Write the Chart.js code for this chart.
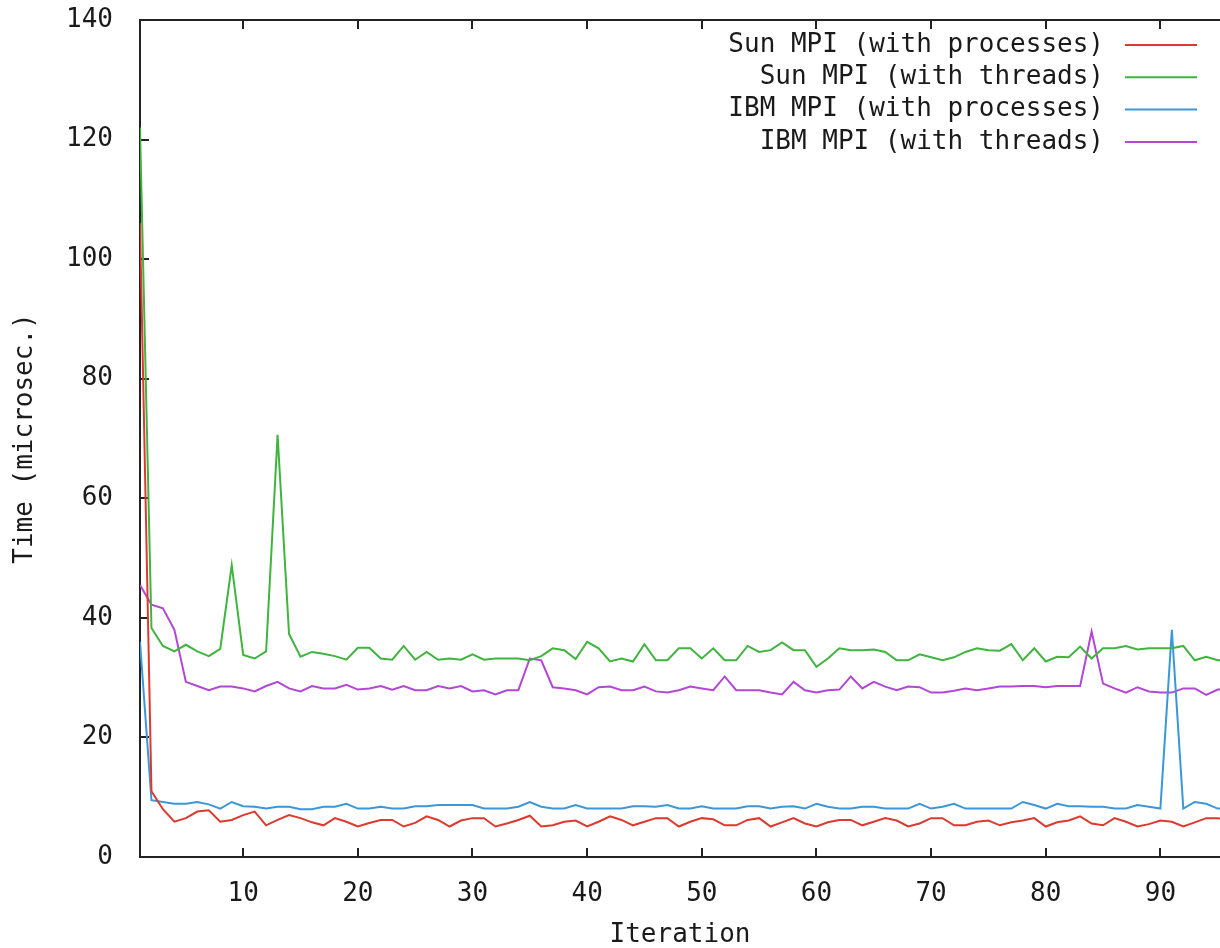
<!DOCTYPE html>
<html>
<head>
<meta charset="utf-8">
<title>MPI timing</title>
<script src="https://cdn.jsdelivr.net/npm/chart.js@4.4.0/dist/chart.umd.min.js"></script>
<style>
  html, body { margin: 0; padding: 0; background: #fff; }
  canvas { display: block; }
</style>
</head>
<body>
<canvas id="timingChart" width="1220" height="948"></canvas>
<script>
// Iteration numbers (x) and the measured times (microseconds) for each run
const iterations = [
   1,  2,  3,  4,  5,  6,  7,  8,  9, 10, 11, 12, 13, 14, 15, 16, 17, 18, 19, 20,
  21, 22, 23, 24, 25, 26, 27, 28, 29, 30, 31, 32, 33, 34, 35, 36, 37, 38, 39, 40,
  41, 42, 43, 44, 45, 46, 47, 48, 49, 50, 51, 52, 53, 54, 55, 56, 57, 58, 59, 60,
  61, 62, 63, 64, 65, 66, 67, 68, 69, 70, 71, 72, 73, 74, 75, 76, 77, 78, 79, 80,
  81, 82, 83, 84, 85, 86, 87, 88, 89, 90, 91, 92, 93, 94, 95, 96
];

const sunProcesses = [
  106, 11, 8, 5.9, 6.5, 7.6, 7.8, 5.9, 6.2, 7.0, 7.6, 5.3, 6.2, 7.0, 6.5, 5.8, 5.3, 6.5, 5.9, 5.1,
  5.7, 6.2, 6.2, 5.1, 5.7, 6.8, 6.2, 5.1, 6.1, 6.5, 6.5, 5.1, 5.6, 6.2, 6.9, 5.1, 5.3, 5.9, 6.1, 5.1,
  5.9, 6.8, 6.2, 5.3, 5.9, 6.5, 6.5, 5.1, 5.9, 6.5, 6.3, 5.3, 5.3, 6.2, 6.5, 5.1, 5.8, 6.5, 5.6, 5.1,
  5.8, 6.2, 6.2, 5.3, 5.9, 6.5, 6.1, 5.1, 5.6, 6.5, 6.5, 5.3, 5.3, 5.9, 6.1, 5.3, 5.8, 6.1, 6.5, 5.1,
  5.8, 6.1, 6.8, 5.6, 5.3, 6.5, 5.9, 5.1, 5.5, 6.1, 5.9, 5.1, 5.8, 6.5, 6.5, 6.2
];

const sunThreads = [
  122, 38.3, 35.3, 34.4, 35.5, 34.4, 33.6, 34.8, 48.8, 33.8, 33.2, 34.4, 70.6, 37.3, 33.5, 34.3, 34.0, 33.6, 33.0, 35.0,
  35.0, 33.2, 33.0, 35.3, 33.0, 34.3, 33.0, 33.2, 33.0, 33.9, 33.0, 33.2, 33.2, 33.2, 32.9, 33.6, 34.9, 34.6, 33.1, 36.0,
  34.9, 32.7, 33.2, 32.7, 35.6, 32.9, 32.9, 34.9, 34.9, 33.2, 34.9, 32.9, 32.9, 35.3, 34.3, 34.6, 35.9, 34.6, 34.6, 31.8,
  33.2, 34.9, 34.6, 34.6, 34.7, 34.3, 32.9, 32.9, 33.9, 33.4, 32.9, 33.4, 34.3, 34.9, 34.6, 34.5, 35.6, 32.9, 34.9, 32.7,
  33.5, 33.4, 35.2, 33.2, 34.9, 34.9, 35.3, 34.7, 34.9, 34.9, 34.9, 35.3, 32.9, 33.5, 32.9, 32.9
];

const ibmProcesses = [
  36, 9.5, 9.2, 8.9, 8.9, 9.2, 8.8, 8.1, 9.2, 8.5, 8.4, 8.1, 8.4, 8.4, 8.0, 8.0, 8.4, 8.4, 8.9, 8.1,
  8.1, 8.4, 8.1, 8.1, 8.5, 8.5, 8.7, 8.7, 8.7, 8.7, 8.1, 8.1, 8.1, 8.4, 9.2, 8.4, 8.1, 8.1, 8.7, 8.1,
  8.1, 8.1, 8.1, 8.5, 8.5, 8.4, 8.7, 8.1, 8.1, 8.5, 8.1, 8.1, 8.1, 8.5, 8.5, 8.1, 8.4, 8.5, 8.1, 8.9,
  8.4, 8.1, 8.1, 8.4, 8.4, 8.1, 8.1, 8.1, 8.9, 8.1, 8.4, 8.9, 8.1, 8.1, 8.1, 8.1, 8.1, 9.2, 8.7, 8.1,
  8.9, 8.5, 8.5, 8.4, 8.4, 8.1, 8.1, 8.7, 8.4, 8.1, 38.0, 8.1, 9.2, 8.9, 8.1, 8.1
];

const ibmThreads = [
  45.5, 42.2, 41.6, 38.0, 29.3, 28.6, 27.9, 28.5, 28.5, 28.2, 27.7, 28.6, 29.3, 28.2, 27.7, 28.6, 28.2, 28.2, 28.8, 28.0,
  28.2, 28.6, 28.0, 28.6, 27.9, 27.9, 28.6, 28.2, 28.6, 27.7, 27.9, 27.2, 27.9, 27.9, 33.2, 32.9, 28.4, 28.2, 27.9, 27.2,
  28.4, 28.5, 27.9, 27.9, 28.5, 27.7, 27.5, 27.9, 28.5, 28.2, 27.9, 30.2, 27.9, 27.9, 27.9, 27.5, 27.2, 29.3, 27.9, 27.5,
  27.9, 28.0, 30.2, 28.2, 29.3, 28.5, 27.9, 28.5, 28.4, 27.5, 27.5, 27.8, 28.2, 27.9, 28.2, 28.5, 28.5, 28.6, 28.6, 28.4,
  28.6, 28.6, 28.6, 37.7, 29.0, 28.2, 27.5, 28.4, 27.7, 27.5, 27.5, 28.2, 28.2, 27.1, 28.0, 28.0
];

const seriesLabels = [
  'Sun MPI (with processes)',
  'Sun MPI (with threads)',
  'IBM MPI (with processes)',
  'IBM MPI (with threads)'
];

const xTicks = [10, 20, 30, 40, 50, 60, 70, 80, 90];
const yTicks = [0, 20, 40, 60, 80, 100, 120, 140];

const monoFont = '"DejaVu Sans Mono", "Liberation Mono", monospace';
const lineColors = ['#dc3a2e', '#3fb43f', '#3a98d8', '#b446d6'];

function toPoints(values) {
  return iterations.map((it, i) => ({ x: it, y: values[i] }));
}

// gnuplot style frame with inward ticks
const framePlugin = {
  id: 'frame',
  beforeDatasetsDraw(chart) {
    const { ctx, chartArea: a, scales } = chart;
    ctx.save();
    ctx.strokeStyle = '#222';
    ctx.lineWidth = 2;
    ctx.beginPath();
    ctx.moveTo(a.right + 2, a.top);
    ctx.lineTo(a.left, a.top);
    ctx.lineTo(a.left, a.bottom);
    ctx.lineTo(a.right + 2, a.bottom);
    ctx.stroke();
    ctx.beginPath();
    xTicks.forEach(v => {
      const px = Math.round(scales.x.getPixelForValue(v));
      ctx.moveTo(px, a.bottom);
      ctx.lineTo(px, a.bottom - 9);
      ctx.moveTo(px, a.top);
      ctx.lineTo(px, a.top + 9);
    });
    yTicks.forEach(v => {
      const py = Math.round(scales.y.getPixelForValue(v));
      ctx.moveTo(a.left, py);
      ctx.lineTo(a.left + 9, py);
    });
    ctx.stroke();
    ctx.restore();
  }
};

// key in the top right corner: text first, then the line sample
const keyPlugin = {
  id: 'key',
  afterDraw(chart) {
    const { ctx, chartArea: a } = chart;
    ctx.save();
    ctx.font = '26px ' + monoFont;
    ctx.textAlign = 'right';
    ctx.textBaseline = 'middle';
    chart.data.datasets.forEach((ds, i) => {
      const yy = a.top + 25 + i * 32.3;
      ctx.fillStyle = '#1a1a1a';
      ctx.fillText(ds.label, a.right - 116, yy);
      ctx.strokeStyle = ds.borderColor;
      ctx.lineWidth = 2;
      ctx.beginPath();
      ctx.moveTo(a.right - 95, yy);
      ctx.lineTo(a.right - 23, yy);
      ctx.stroke();
    });
    ctx.restore();
  }
};

const seriesValues = [sunProcesses, sunThreads, ibmProcesses, ibmThreads];

const timingData = {
  datasets: seriesValues.map((vals, i) => ({
    label: seriesLabels[i],
    data: toPoints(vals),
    borderColor: lineColors[i],
    backgroundColor: lineColors[i],
    borderWidth: 2,
    pointRadius: 0,
    tension: 0,
    fill: false
  }))
};

const timingConfig = {
  type: 'line',
  data: timingData,
  plugins: [framePlugin, keyPlugin],
  options: {
    responsive: false,
    animation: false,
    devicePixelRatio: 1,
    layout: { padding: { top: 20, right: 0, left: 0, bottom: 0 } },
    plugins: {
      legend: { display: false },
      tooltip: { enabled: false }
    },
    scales: {
      x: {
        type: 'linear',
        min: 1,
        max: 95.2,
        grid: { display: false },
        border: { display: false },
        ticks: {
          color: '#1a1a1a',
          font: { family: monoFont, size: 26 },
          padding: 14,
          maxRotation: 0
        },
        afterBuildTicks: (scale) => { scale.ticks = xTicks.map(v => ({ value: v })); },
        afterFit: (scale) => { scale.height = 91; },
        title: {
          display: true,
          text: 'Iteration',
          color: '#1a1a1a',
          font: { family: monoFont, size: 26, lineHeight: 1 },
          padding: { top: 0, bottom: 0 }
        }
      },
      y: {
        min: 0,
        max: 140,
        grid: { display: false },
        border: { display: false },
        ticks: {
          stepSize: 20,
          color: '#1a1a1a',
          font: { family: monoFont, size: 26 },
          padding: 19
        },
        afterFit: (scale) => {
          scale.width = 140;
          scale.paddingTop = 0;
          scale.paddingBottom = 0;
        },
        title: {
          display: true,
          text: 'Time (microsec.)',
          color: '#1a1a1a',
          font: { family: monoFont, size: 26 },
          padding: { top: 10, bottom: 0 }
        }
      }
    }
  }
};

const timingCtx = document.getElementById('timingChart').getContext('2d');
const timingChart = new Chart(timingCtx, timingConfig);
</script>
</body>
</html>
